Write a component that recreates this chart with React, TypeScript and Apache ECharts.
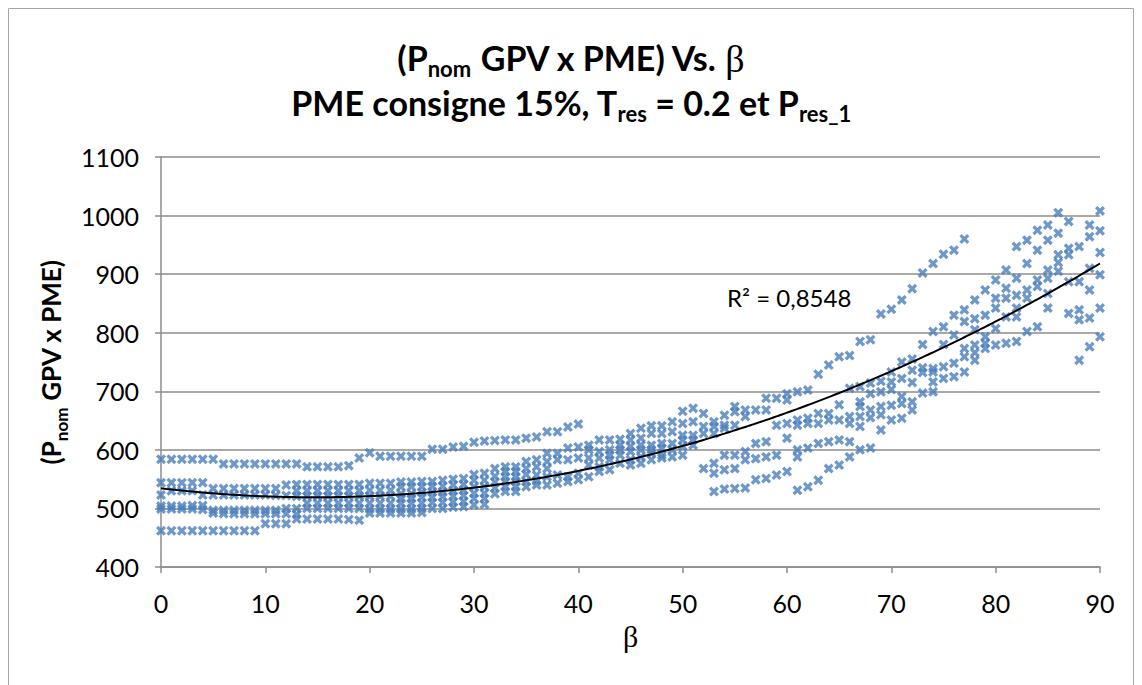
import { useEffect, useRef } from "react";
import * as echarts from "echarts";

// P_nom GPV x PME values for each β (degrees); the index inside a block is the β offset.
const beta00to09: number[][] = [
  [584, 544, 523, 504, 499, 462],
  [584, 544, 530, 504, 499, 462],
  [584, 544, 530, 504, 499, 462],
  [584, 544, 530, 505, 499, 462],
  [584, 544, 523, 505, 498, 462],
  [584, 534, 523, 497, 492, 462],
  [576, 534, 523, 497, 491, 462],
  [576, 534, 523, 497, 491, 462],
  [576, 534, 523, 497, 491, 462],
  [576, 534, 523, 497, 491, 462],
];

const beta10to19: number[][] = [
  [576, 534, 523, 497, 491, 474],
  [576, 534, 522, 497, 491, 474],
  [576, 540, 522, 500, 491, 474],
  [576, 541, 530, 521, 500, 490, 482],
  [571, 541, 530, 521, 509, 500, 482],
  [571, 541, 530, 521, 509, 500, 482],
  [571, 541, 530, 521, 509, 500, 482],
  [571, 541, 530, 521, 509, 500, 482],
  [573, 541, 530, 521, 509, 500, 481],
  [586, 541, 530, 521, 509, 500, 480],
];

const beta20to29: number[][] = [
  [595, 543, 531, 521, 509, 499, 492],
  [589, 543, 531, 521, 509, 499, 492],
  [589, 543, 531, 521, 509, 499, 492],
  [589, 545, 537, 525, 517, 509, 499, 492],
  [589, 545, 537, 525, 517, 509, 499, 492],
  [589, 546, 537, 527, 519, 509, 500, 493],
  [601, 546, 538, 528, 519, 510, 500],
  [601, 548, 538, 528, 520, 510, 500],
  [605, 550, 540, 530, 521, 511, 502],
  [606, 551, 541, 531, 522, 512, 503],
];

const beta30to39: number[][] = [
  [613, 558, 548, 537, 526, 517, 506],
  [615, 560, 548, 537, 526, 517, 507],
  [616, 568, 555, 545, 535, 525],
  [617, 571, 563, 554, 546, 537, 529],
  [617, 571, 563, 554, 546, 537, 529],
  [620, 580, 568, 558, 546, 537],
  [622, 583, 571, 557, 547, 540],
  [631, 594, 580, 568, 554, 540],
  [631, 594, 583, 557, 543],
  [639, 603, 583, 554, 546],
];

const beta40to49: number[][] = [
  [644, 605, 586, 560, 549],
  [608, 600, 586, 574, 554],
  [617, 597, 586, 571, 563],
  [617, 600, 591, 583, 566],
  [618, 608, 600, 591, 577],
  [628, 617, 606, 597, 583, 574],
  [637, 620, 608, 600, 588, 577],
  [641, 628, 608, 600, 594, 583],
  [641, 628, 611, 603, 591, 586],
  [648, 631, 611, 600, 588],
];

const beta50to59: number[][] = [
  [666, 645, 625, 617, 606, 591],
  [671, 648, 625, 617, 608],
  [662, 640, 628, 568],
  [648, 640, 628, 577, 560, 529],
  [659, 642, 637, 591, 566, 533],
  [674, 665, 642, 591, 568, 534],
  [668, 657, 597, 583, 535],
  [668, 611, 585, 549],
  [688, 668, 614, 588, 551],
  [688, 642, 591, 557],
];

const beta60to69: number[][] = [
  [696, 685, 645, 620, 563],
  [699, 651, 642, 600, 588, 531],
  [702, 654, 645, 603, 537],
  [729, 662, 645, 611, 548],
  [745, 662, 651, 614, 568],
  [759, 677, 651, 617, 574],
  [761, 705, 657, 645, 614, 588],
  [785, 708, 682, 674, 657, 640, 600],
  [788, 714, 696, 668, 655, 603],
  [832, 717, 699, 674, 660, 634],
];

const beta70to79: number[][] = [
  [840, 733, 716, 703, 676, 651],
  [856, 750, 722, 691, 679, 654],
  [875, 755, 736, 715, 682, 668],
  [902, 780, 740, 732, 697],
  [918, 802, 739, 733, 716, 699],
  [934, 810, 780, 742, 722],
  [941, 830, 796, 748, 725],
  [960, 839, 819, 773, 759, 733],
  [856, 824, 805, 779, 766, 753],
  [873, 830, 793, 782, 773],
];

const beta80to90: number[][] = [
  [890, 859, 842, 807, 779],
  [907, 876, 859, 827, 782],
  [947, 893, 864, 842, 827, 785],
  [958, 918, 873, 859, 802],
  [975, 941, 890, 879, 810],
  [984, 958, 907, 893, 867, 842],
  [1005, 970, 933, 920, 905],
  [990, 944, 933, 887, 833],
  [947, 887, 839, 822, 753],
  [984, 964, 910, 873, 825, 776],
  [1008, 974, 937, 899, 842, 793],
];

const betaBlocks: number[][][] = [
  beta00to09,
  beta10to19,
  beta20to29,
  beta30to39,
  beta40to49,
  beta50to59,
  beta60to69,
  beta70to79,
  beta80to90,
];

const rSquaredLabel = "R² = 0,8548";

const BLUE = "#4A7EBB";
const GRID = "#8C8C8C";
const FONT = "Lato, 'Liberation Sans', sans-serif";
const SERIF = "'Liberation Serif', 'DejaVu Serif', serif";
const X_MARK =
  "path://M0,2.3L2.3,0L5,2.7L7.7,0L10,2.3L7.3,5L10,7.7L7.7,10L5,7.3L2.3,10L0,7.7L2.7,5Z";

// Least-squares fit of y = a + b·x + c·x² (order-2 polynomial trendline).
function quadraticFit(pts: number[][]): [number, number, number] {
  let s0 = 0, s1 = 0, s2 = 0, s3 = 0, s4 = 0, t0 = 0, t1 = 0, t2 = 0;
  for (const [x, y] of pts) {
    const x2 = x * x;
    s0 += 1; s1 += x; s2 += x2; s3 += x2 * x; s4 += x2 * x2;
    t0 += y; t1 += x * y; t2 += x2 * y;
  }
  const det3 = (m: number[][]) =>
    m[0][0] * (m[1][1] * m[2][2] - m[1][2] * m[2][1]) -
    m[0][1] * (m[1][0] * m[2][2] - m[1][2] * m[2][0]) +
    m[0][2] * (m[1][0] * m[2][1] - m[1][1] * m[2][0]);
  const M = [
    [s0, s1, s2],
    [s1, s2, s3],
    [s2, s3, s4],
  ];
  const T = [t0, t1, t2];
  const D = det3(M);
  const solveCol = (k: number) =>
    det3(M.map((row, i) => row.map((v, j) => (j === k ? T[i] : v)))) / D;
  return [solveCol(0), solveCol(1), solveCol(2)];
}

export default function App() {
  const ref = useRef<HTMLDivElement>(null);

  useEffect(() => {
    if (!ref.current) return;
    const chart = echarts.init(ref.current, undefined, { renderer: "svg" });

    const points: number[][] = [];
    let beta = 0;
    for (const block of betaBlocks) {
      for (const column of block) {
        for (const v of column) points.push([beta, v]);
        beta += 1;
      }
    }
    const maxBeta = beta - 1;

    const [a, b, c] = quadraticFit(points);
    const trend: number[][] = [];
    for (let x = 0; x <= maxBeta; x += 0.5) trend.push([x, a + b * x + c * x * x]);

    const titleRich = {
      t: { fontSize: 34, fontWeight: "bold" as const, fontFamily: FONT, color: "#000", lineHeight: 36, verticalAlign: "top" as const },
      s: { fontSize: 22, fontWeight: "bold" as const, fontFamily: FONT, color: "#000", lineHeight: 22, padding: [17, 0, 0, 0], verticalAlign: "top" as const },
      g: { fontSize: 38, fontWeight: "normal" as const, fontFamily: SERIF, color: "#000", lineHeight: 36, verticalAlign: "top" as const },
    };

    chart.setOption({
      animation: false,
      backgroundColor: "#fff",
      title: [
        {
          text: "{t|(P}{s|nom}{t| GPV x PME) Vs. }{g|β}",
          left: "center",
          top: 40,
          padding: 0,
          textStyle: { rich: titleRich },
        },
        {
          text: "{t|PME consigne 15%, T}{s|res}{t| = 0.2 et P}{s|res_1}",
          left: "center",
          top: 85,
          padding: 0,
          textStyle: { rich: titleRich },
        },
      ],
      graphic: [
        {
          type: "rect",
          shape: { x: 8.5, y: 8.5, width: 1125, height: 700 },
          style: { fill: "none", stroke: "#A6A6A6", lineWidth: 1 },
          silent: true,
        },
        {
          type: "text",
          left: 727,
          top: 285,
          style: { text: rSquaredLabel, fontSize: 24, fontFamily: FONT, fill: "#000" },
        },
      ],
      grid: { left: 161, right: 42, top: 157, bottom: 118 },
      xAxis: {
        type: "value",
        min: 0,
        max: 90,
        interval: 10,
        name: "β",
        nameLocation: "middle",
        nameGap: 54,
        nameTextStyle: { fontSize: 30, fontFamily: SERIF, color: "#000" },
        axisLine: { show: true, onZero: false, lineStyle: { color: GRID, width: 1.5 } },
        axisTick: { show: true, length: 6, lineStyle: { color: GRID, width: 1.5 } },
        axisLabel: { fontSize: 25, fontFamily: FONT, color: "#000", margin: 23, formatter: (v: number) => String(v) },
        splitLine: { show: false },
      },
      yAxis: {
        type: "value",
        min: 400,
        max: 1100,
        interval: 100,
        name: "{t|(P}{s|nom}{t| GPV x PME)}",
        nameLocation: "middle",
        nameRotate: 90,
        nameGap: 75,
        nameTextStyle: {
          rich: {
            t: { fontSize: 26, fontWeight: "bold", fontFamily: FONT, color: "#000", lineHeight: 28, verticalAlign: "top" },
            s: { fontSize: 17, fontWeight: "bold", fontFamily: FONT, color: "#000", lineHeight: 17, padding: [15, 0, 0, 0], verticalAlign: "top" },
          },
        },
        axisLine: { show: true, lineStyle: { color: GRID, width: 1.5 } },
        axisTick: { show: true, length: 6, lineStyle: { color: GRID, width: 1.5 } },
        axisLabel: { fontSize: 25, fontFamily: FONT, color: "#000", margin: 22, formatter: (v: number) => String(v) },
        splitLine: { show: true, lineStyle: { color: GRID, width: 1.5 } },
      },
      series: [
        {
          type: "scatter",
          data: points,
          symbol: X_MARK,
          symbolSize: 10,
          itemStyle: { color: BLUE },
          silent: true,
        },
        {
          type: "line",
          data: trend,
          showSymbol: false,
          smooth: true,
          lineStyle: { color: "#000", width: 2 },
          silent: true,
          z: 3,
        },
      ],
    });

    return () => chart.dispose();
  }, []);

  return (
    <div
      ref={ref}
      style={{ position: "fixed", left: 0, top: 0, width: 1142, height: 685, background: "#fff" }}
    />
  );
}
